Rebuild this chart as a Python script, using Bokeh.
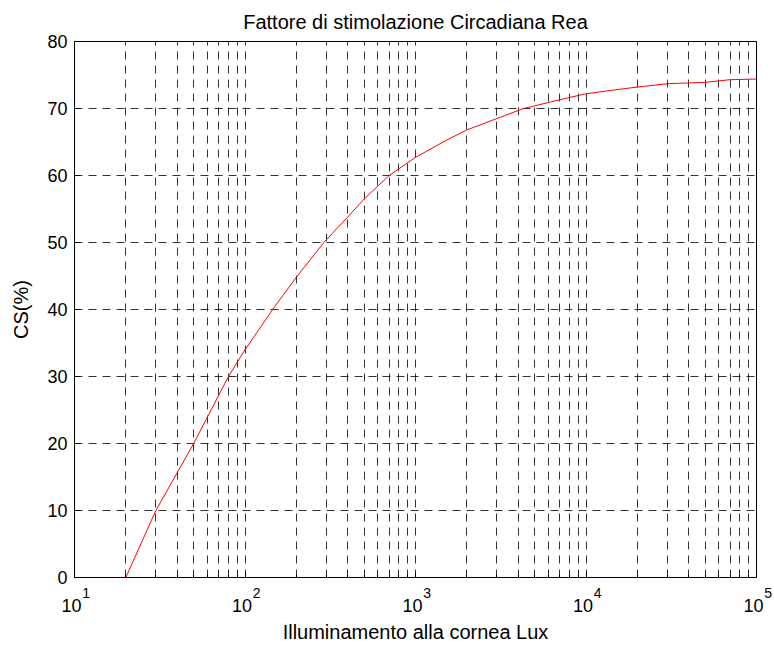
from bokeh.plotting import figure
from bokeh.models import FixedTicker, Range1d, LogAxis
from bokeh.embed import file_html
from bokeh.resources import INLINE

# Circadian stimulus (CS, %) versus corneal illuminance (lux)
lux = [10, 20, 30, 50, 80, 100, 150, 200, 290, 400, 500, 700, 1000, 1500,
       2000, 3000, 4300, 5000, 7000, 10000, 15000, 20000, 30000, 50000,
       70000, 100000]
cs = [0, 0, 10, 20, 30, 34, 40.5, 44.8, 50, 53.8, 56.5, 60, 62.7, 65.2,
      66.8, 68.5, 70, 70.4, 71.3, 72.2, 72.8, 73.2, 73.7, 73.9,
      74.3, 74.4]

x_major = [10, 100, 1000, 10000, 100000]
x_minor = [m * d for d in [10, 100, 1000, 10000] for m in range(2, 10)]
x_exp = ["1", "2", "3", "4", "5"]
y_ticks = [0, 10, 20, 30, 40, 50, 60, 70, 80]

FONT = "Liberation Sans"
FIG_SP = "\u2007"   # figure space, pushes the exponent right of the tick
BASE_SP = "\u2004"  # three-per-em space, pulls "10" left of the tick

p = figure(width=774, height=645, x_axis_type="log",
           x_range=Range1d(10, 100000), y_range=Range1d(0, 80),
           output_backend="svg", toolbar_location=None,
           title="Fattore di stimolazione Circadiana Rea",
           y_axis_label="CS(%)")

p.min_border_left = 74
p.min_border_right = 18
p.min_border_top = 41
p.min_border_bottom = 68
p.background_fill_color = "white"
p.border_fill_color = "white"
p.outline_line_color = "black"
p.outline_line_width = 1

p.title.align = "center"
p.title.text_font = FONT
p.title.text_font_size = "20px"
p.title.text_font_style = "normal"
p.title.text_color = "black"
p.title.standoff = 17

x_ticker = FixedTicker(ticks=x_major, minor_ticks=x_minor)
p.yaxis.ticker = FixedTicker(ticks=y_ticks)

# axis next to the frame: line, inward ticks and the small exponents
exp_axis = p.xaxis[0]
exp_axis.ticker = x_ticker
exp_axis.major_label_overrides = {t: FIG_SP * 3 + e for t, e in zip(x_major, x_exp)}
exp_axis.major_label_text_font_size = "14px"
exp_axis.major_label_standoff = 7

# second axis below it: the "10" bases and the axis title
base_axis = LogAxis(ticker=x_ticker,
                    axis_label="Illuminamento alla cornea Lux")
base_axis.major_label_overrides = {t: "10" + BASE_SP for t in x_major}
base_axis.major_label_text_font_size = "18px"
base_axis.major_label_standoff = -8
base_axis.axis_label_standoff = 2
base_axis.axis_line_color = None
base_axis.major_tick_line_color = None
base_axis.minor_tick_line_color = None
p.add_layout(base_axis, "below")

for ax in (exp_axis, base_axis, p.yaxis[0]):
    ax.major_tick_in = 5
    ax.major_tick_out = 0
    ax.minor_tick_in = 3
    ax.minor_tick_out = 0
    ax.major_label_text_font = FONT
    ax.major_label_text_color = "black"
    ax.axis_label_text_font = FONT
    ax.axis_label_text_font_size = "20px"
    ax.axis_label_text_font_style = "normal"
    ax.axis_label_text_color = "black"

for ax in (exp_axis, p.yaxis[0]):
    ax.axis_line_color = "black"
    ax.major_tick_line_color = "black"
    ax.minor_tick_line_color = "black"

p.yaxis.major_label_text_font_size = "18px"
p.yaxis.minor_tick_line_color = None
p.yaxis.major_label_standoff = 7
p.yaxis.axis_label_standoff = 12

# dashed grid on major and minor decades
p.xgrid.ticker = x_ticker
p.xgrid.grid_line_color = "black"
p.xgrid.grid_line_alpha = 0.8
p.xgrid.grid_line_dash = "8 6"
p.xgrid.minor_grid_line_color = "black"
p.xgrid.minor_grid_line_alpha = 0.8
p.xgrid.minor_grid_line_dash = "8 6"
p.ygrid.grid_line_color = "black"
p.ygrid.grid_line_alpha = 0.8
p.ygrid.grid_line_dash = "8 6"

p.line(lux, cs, line_color="#ff0000", line_width=1)

open("out.html", "w").write(file_html(p, INLINE))
